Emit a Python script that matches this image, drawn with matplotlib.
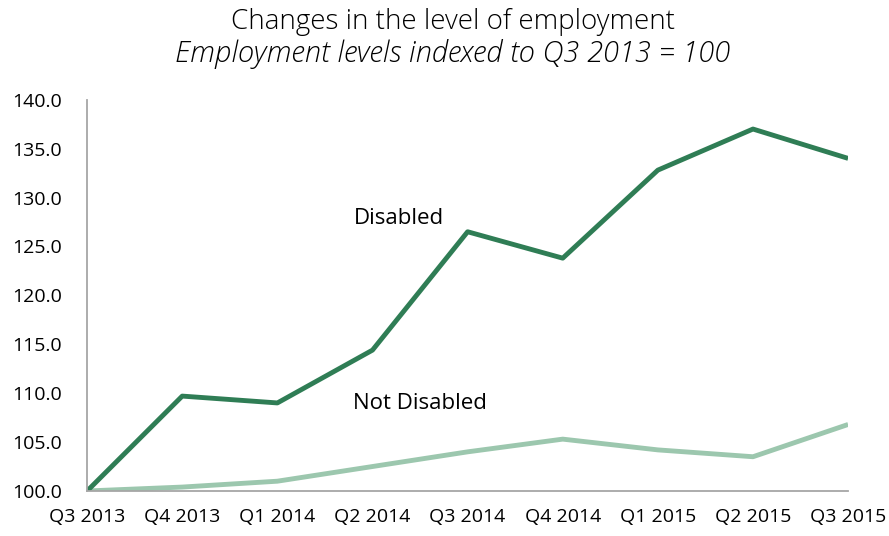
import matplotlib.pyplot as plt

plt.rcParams['font.family'] = ['Open Sans', 'DejaVu Sans']

quarters = ['Q3 2013', 'Q4 2013', 'Q1 2014', 'Q2 2014', 'Q3 2014',
            'Q4 2014', 'Q1 2015', 'Q2 2015', 'Q3 2015']
disabled = [100.0, 109.7, 109.0, 114.4, 126.5, 123.8, 132.8, 137.0, 134.0]
not_disabled = [100.0, 100.4, 101.0, 102.5, 104.0, 105.3, 104.2, 103.5, 106.8]

fig = plt.figure(figsize=(8.89, 5.36), dpi=100)
ax = fig.add_axes([0.098, 0.084, 0.856, 0.730])

x = range(len(quarters))
ax.plot(x, not_disabled, color='#9cc7ae', lw=3.5, solid_capstyle='butt')
ax.plot(x, disabled, color='#2f7d55', lw=3.5, solid_capstyle='butt')

ax.set_xlim(0, len(quarters) - 1)
ax.set_ylim(100, 140)
ax.set_yticks(range(100, 141, 5))
ax.set_yticklabels(['%.1f' % v for v in range(100, 141, 5)])
ax.set_xticks(list(x))
ax.set_xticklabels(quarters)
ax.tick_params(length=0, labelsize=14, colors='black')
ax.tick_params(axis='y', pad=18)
ax.tick_params(axis='x', pad=12)

for s in ['top', 'right']:
    ax.spines[s].set_visible(False)
for s in ['left', 'bottom']:
    ax.spines[s].set_color('#a6a6a6')
    ax.spines[s].set_linewidth(1.3)

ax.text(2.80, 127.3, 'Disabled', fontsize=16)
ax.text(2.80, 108.4, 'Not Disabled', fontsize=16)

fig.text(0.509, 0.946, 'Changes in the level of employment', ha='center', va='baseline',
         fontsize=20, fontweight='light')
fig.text(0.509, 0.884, 'Employment levels indexed to Q3 2013 = 100', ha='center',
         va='baseline', fontsize=21, style='italic', fontweight='light')

fig.savefig('out.png')
